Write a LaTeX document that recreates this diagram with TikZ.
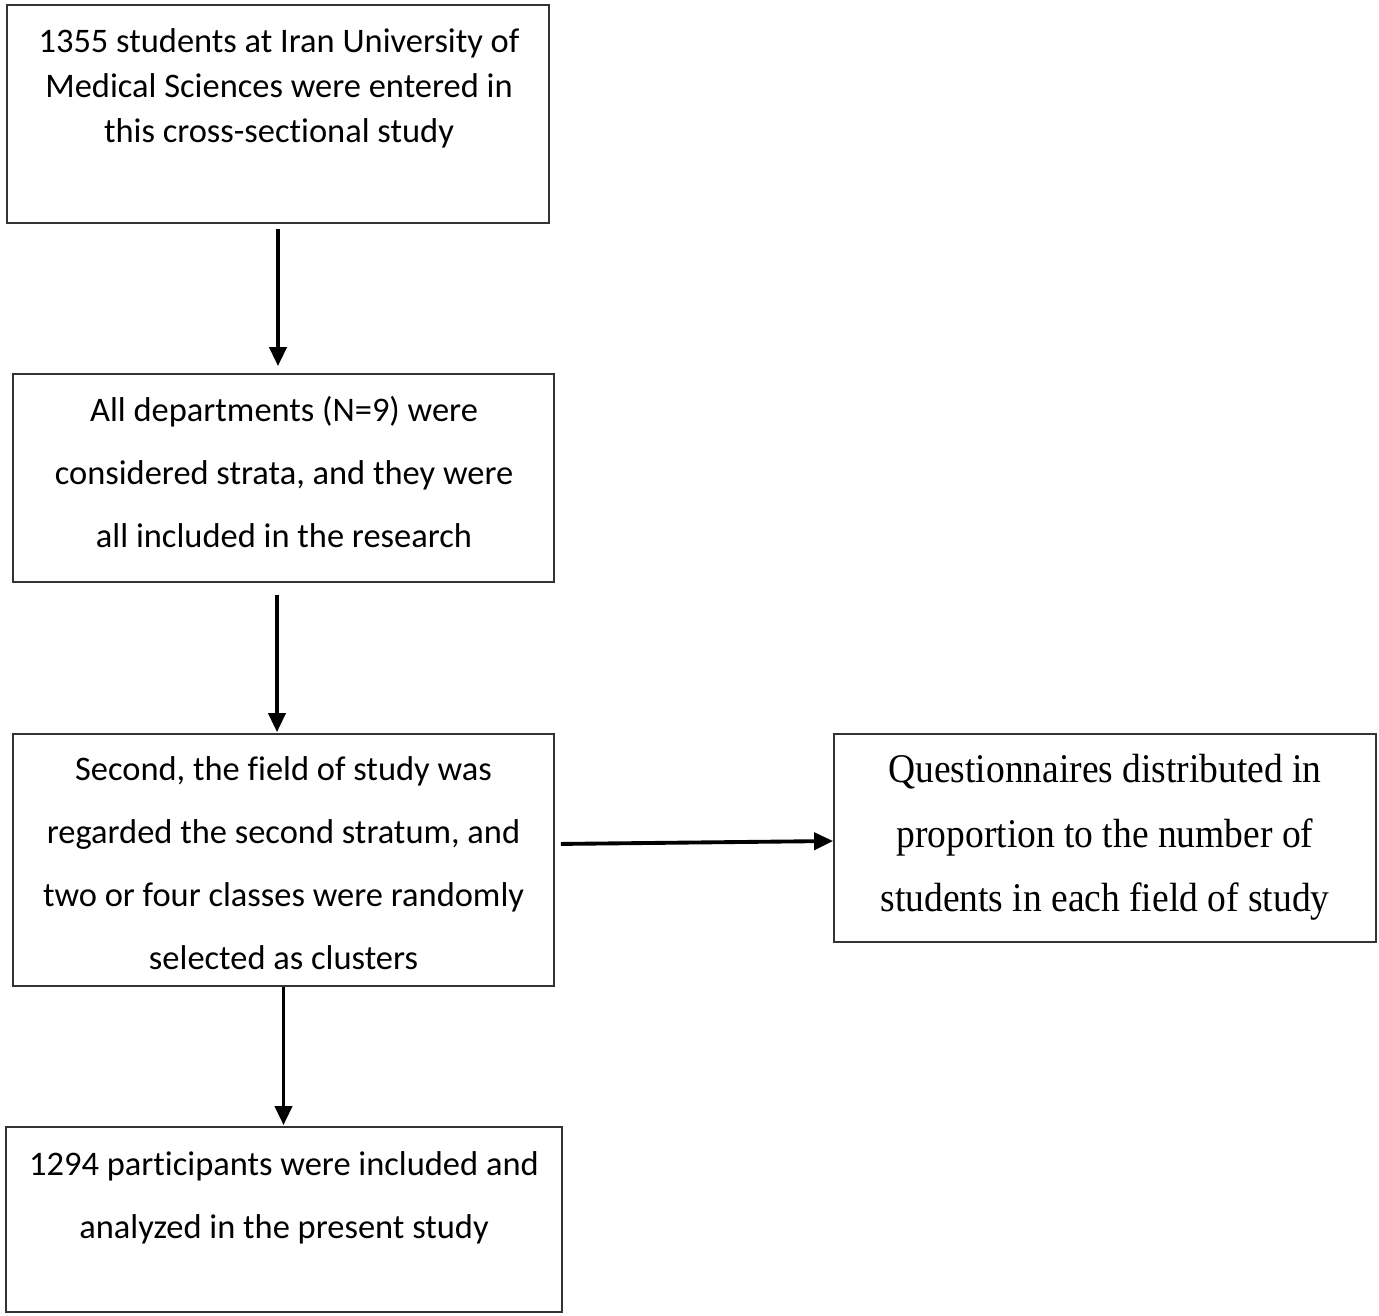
\documentclass[tikz,border=0pt]{standalone}
\usepackage{fontspec}
\setmainfont{Carlito}[Ligatures=NoCommon]
\newfontfamily\timesnarrow[FakeStretch=0.92, Ligatures=NoCommon]{Liberation Serif}
\usetikzlibrary{arrows.meta}

\definecolor{boxborder}{HTML}{333333}

\begin{document}
\begin{tikzpicture}[
    frame/.style={draw=boxborder, line width=0.5pt, inner sep=0pt},
    txt/.style={align=center, inner sep=0pt, text=black,
                font=\fontsize{9.8}{17.9}\selectfont},
    flow/.style={-{Triangle[length=0.19cm, width=0.17cm]}, line width=1.1pt, black},
]
\useasboundingbox (0,0) rectangle (13.79,-13.16);

% --- Boxes ---
\node[frame, minimum width=5.42cm, minimum height=2.18cm] (study)  at (2.78, -1.14)   {};
\node[frame, minimum width=5.41cm, minimum height=2.08cm] (strata) at (2.835, -4.78)  {};
\node[frame, minimum width=5.41cm, minimum height=2.52cm] (field)  at (2.835, -8.60)  {};
\node[frame, minimum width=5.56cm, minimum height=1.85cm] (result) at (2.84, -12.195) {};
\node[frame, minimum width=5.42cm, minimum height=2.08cm] (quest)  at (11.05, -8.38)  {};

% --- Box texts ---
\node[txt, font=\fontsize{9.8}{12.8}\selectfont] (study-txt) at (2.79, -0.88)
    {1355 students at Iran University of\\Medical Sciences were entered in\\this cross-sectional study};
\node[txt] (strata-txt) at (2.84, -4.72)
    {All departments (N=9) were\\considered strata, and they were\\all included in the research};
\node[txt] (field-txt) at (2.835, -8.635)
    {Second, the field of study was\\regarded the second stratum, and\\two or four classes were randomly\\selected as clusters};
\node[txt] (result-txt) at (2.84, -11.975)
    {1294 participants were included and\\analyzed in the present study};
\node[txt, font=\timesnarrow\fontsize{11.6}{18.4}\selectfont] (quest-txt) at (11.05, -8.375)
    {Questionnaires distributed in\\proportion to the number of\\students in each field of study};

% --- Connectors ---
\draw[flow, shorten <=0.05cm, shorten >=0.07cm] (study.south) -- (study.south |- strata.north);
\draw[flow, shorten <=0.12cm, shorten >=0.01cm]
    ([xshift=-0.065cm]strata.south) -- ([xshift=-0.065cm]strata.south |- field.north);
\draw[flow, shorten >=0.01cm] (field.south) -- (field.south |- result.north);
\draw[flow, shorten <=0.06cm] ([yshift=0.16cm]field.east) -- ([yshift=-0.03cm]quest.west);

\end{tikzpicture}
\end{document}
